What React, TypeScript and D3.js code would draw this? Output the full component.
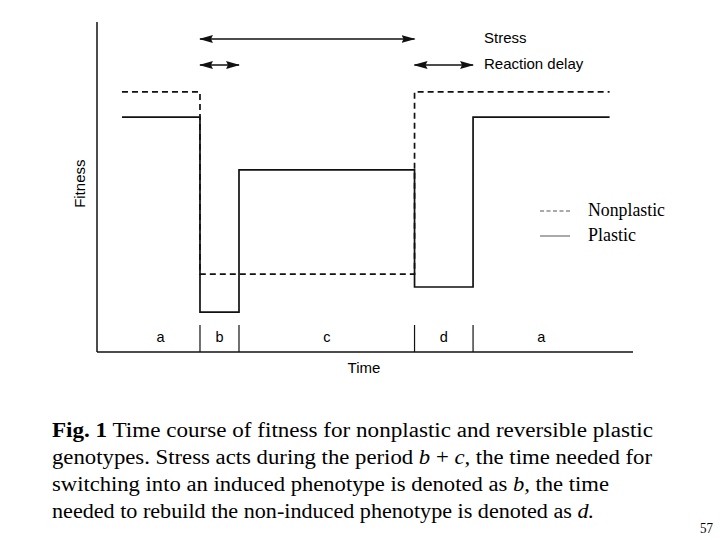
import * as d3 from "d3"

// phase boundaries in arbitrary time units, and the labels of each phase
const phaseBreaks = [0, 2, 3, 7.5, 9, 12.5]
const phaseLabels = ["a", "b", "c", "d", "a"]
// fitness level during each phase
const nonplastic = [7.88, 2.36, 2.36, 7.88, 7.88]
const plastic = [7.12, 1.21, 5.52, 1.97, 7.12]

const captionLines = [
  [{ t: "Fig. 1", b: true }, { t: " Time course of fitness for nonplastic and reversible plastic" }],
  [{ t: "genotypes. Stress acts during the period " }, { t: "b", i: true }, { t: " + " }, { t: "c,", i: true }, { t: " the time needed for" }],
  [{ t: "switching into an induced phenotype is denoted as " }, { t: "b,", i: true }, { t: " the time" }],
  [{ t: "needed to rebuild the non-induced phenotype is denoted as " }, { t: "d.", i: true }],
]
const captionWidths = [601, 600, 557, 542]

const sans = "'Liberation Sans', Arial, Helvetica, sans-serif"
const serif = "'Liberation Serif', 'Times New Roman', serif"

export default function App() {
  const x = d3.scaleLinear().domain([-0.64, 13.1]).range([97, 633])
  const y = d3.scaleLinear().domain([0, 10]).range([352, 22])

  const steps = (vals: number[]) =>
    vals.map((v, i) => [phaseBreaks[i], v] as [number, number]).concat([[phaseBreaks[phaseBreaks.length - 1], vals[vals.length - 1]]])
  const line = d3.line<[number, number]>().x(d => x(d[0])).y(d => y(d[1])).curve(d3.curveStepAfter)

  const inner = phaseBreaks.slice(1, -1)
  const [x0, x1] = x.range()
  const [yb, yt] = y.range()

  return (
    <svg width={720} height={540} style={{ position: "absolute", left: 0, top: 0, background: "#fff" }}>
      <defs>
        <marker id="ah" viewBox="0 0 14 8" refX="13" refY="4" markerWidth="14" markerHeight="8" markerUnits="userSpaceOnUse" orient="auto-start-reverse">
          <path d="M0,0 L14,4 L0,8 L2,4 Z" fill="#111" />
        </marker>
      </defs>

      {/* axes */}
      <line x1={x0} x2={x0} y1={yt} y2={yb} stroke="#111" strokeWidth={1.5} />
      <line x1={x0} x2={x1} y1={yb} y2={yb} stroke="#111" strokeWidth={1.5} />
      <text transform={`translate(85,${y(5.1)}) rotate(-90)`} textAnchor="middle" fontFamily={sans} fontSize={15}>Fitness</text>
      <text x={(x0 + x1) / 2 - 1} y={373} textAnchor="middle" fontFamily={sans} fontSize={15}>Time</text>

      {/* phase ticks and labels */}
      {inner.map((t, i) => (
        <line key={i} x1={x(t)} x2={x(t)} y1={yb - 27} y2={yb} stroke="#111" strokeWidth={1.2} />
      ))}
      {phaseLabels.map((l, i) => (
        <text key={i} x={x((phaseBreaks[i] + phaseBreaks[i + 1]) / 2) + (i === 0 ? -0.5 : 0)} y={342} textAnchor="middle" fontFamily={sans} fontSize={14.5}>{l}</text>
      ))}

      {/* fitness curves */}
      <path d={line(steps(nonplastic)) || ""} fill="none" stroke="#111" strokeWidth={1.7} strokeDasharray="6,4" />
      <path d={line(steps(plastic)) || ""} fill="none" stroke="#111" strokeWidth={1.7} />

      {/* stress and reaction delay arrows */}
      <line x1={x(phaseBreaks[1])} x2={x(phaseBreaks[3])} y1={39} y2={39} stroke="#111" strokeWidth={1.3} markerStart="url(#ah)" markerEnd="url(#ah)" />
      <line x1={x(phaseBreaks[1])} x2={x(phaseBreaks[2])} y1={65} y2={65} stroke="#111" strokeWidth={1.3} markerStart="url(#ah)" markerEnd="url(#ah)" />
      <line x1={x(phaseBreaks[3])} x2={x(phaseBreaks[4])} y1={65} y2={65} stroke="#111" strokeWidth={1.3} markerStart="url(#ah)" markerEnd="url(#ah)" />
      <text x={484} y={43} fontFamily={sans} fontSize={15}>Stress</text>
      <text x={484} y={69} fontFamily={sans} fontSize={15}>Reaction delay</text>

      {/* legend */}
      <line x1={540} x2={570} y1={211} y2={211} stroke="#555" strokeWidth={1} strokeDasharray="4,2.5" />
      <line x1={540} x2={570} y1={236} y2={236} stroke="#555" strokeWidth={1} />
      <text x={588} y={216} fontFamily={serif} fontSize={18} textLength={77} lengthAdjust="spacingAndGlyphs">Nonplastic</text>
      <text x={588} y={241} fontFamily={serif} fontSize={18}>Plastic</text>

      {/* caption */}
      {captionLines.map((parts, i) => (
        <text key={i} x={52} y={437 + i * 27} fontFamily={serif} fontSize={20} fill="#000" textLength={captionWidths[i]} lengthAdjust="spacingAndGlyphs">
          {parts.map((p: any, j) => (
            <tspan key={j} fontWeight={p.b ? "bold" : "normal"} fontStyle={p.i ? "italic" : "normal"}>{p.t}</tspan>
          ))}
        </text>
      ))}
      <text x={700} y={533} fontFamily={serif} fontSize={15} textLength={13} lengthAdjust="spacingAndGlyphs">57</text>
    </svg>
  )
}
